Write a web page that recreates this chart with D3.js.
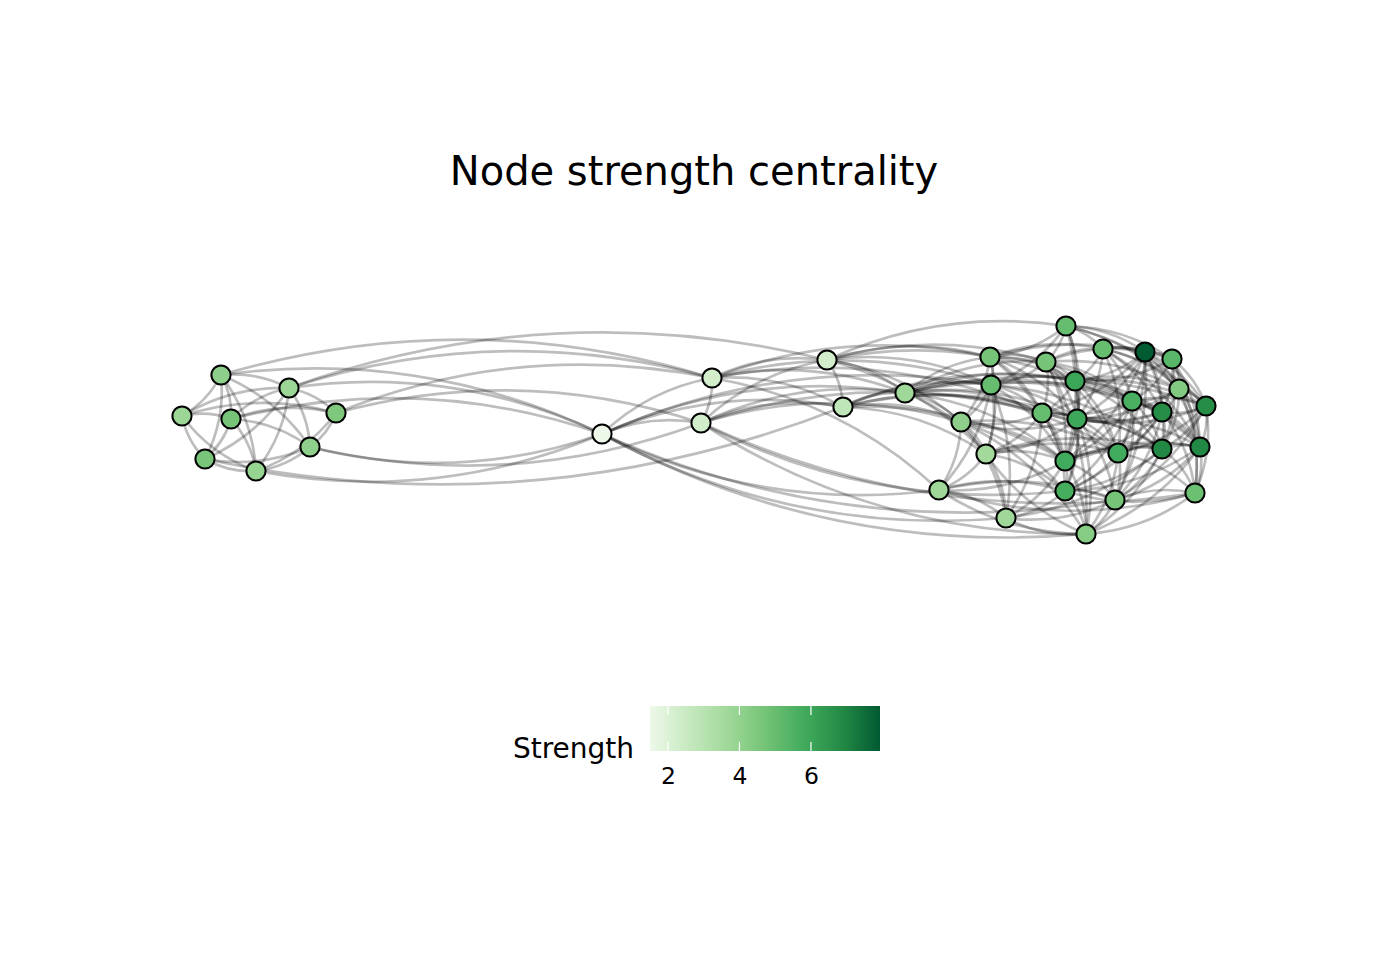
<!DOCTYPE html>
<html>
<head>
<meta charset="utf-8">
<script src="https://cdn.jsdelivr.net/npm/d3@7"></script>
<style>
  body { margin: 0; background: #fff; }
  text { font-family: "DejaVu Sans", sans-serif; }
</style>
</head>
<body>
<svg width="1382" height="960"></svg>
<script>
// layout coordinates of the nodes (graph layout units)
const nodeX = [-4.73, -5.12, -4.63, -4.05, -3.58, -3.84, -4.89, -4.38,
  -0.92, 0.18, 0.07, 1.33, 1.49, 2.11,
  3.72, 2.96, 3.52, 4.09, 4.51, 4.78, 2.97, 3.81, 4.85, 4.38, 5.12, 4.68, 3.48,
  3.83, 2.67, 2.92, 3.71, 4.24, 4.68, 5.06, 2.45, 3.71, 4.21, 5.01, 3.12, 3.92];
const nodeY = [0.55, 0.14, 0.11, 0.42, 0.17, -0.17, -0.29, -0.41,
  -0.04, 0.52, 0.07, 0.70, 0.23, 0.37,
  1.04, 0.73, 0.68, 0.81, 0.78, 0.71, 0.45, 0.49, 0.41, 0.29, 0.24, 0.18, 0.17,
  0.11, 0.08, -0.24, -0.31, -0.23, -0.19, -0.17, -0.60, -0.61, -0.70, -0.63, -0.88, -1.04];
// node strength
const strength = [4.1, 3.8, 4.7, 3.8, 4.5, 4.1, 4.6, 3.9,
  1.5, 2.3, 2.3, 2.3, 2.8, 3.7,
  5.0, 4.7, 4.7, 5.0, 7.93, 5.3, 5.0, 6.0, 4.4, 5.6, 6.8, 6.8, 5.0,
  5.9, 4.1, 3.6, 5.8, 5.8, 6.9, 6.9, 3.7, 5.7, 4.7, 4.9, 3.7, 4.3];
const strengthTicks = [2, 4, 6];

const edges = [
  // left group
  [0,1],[0,2],[0,3],[0,5],[0,6],[0,7],[1,2],[1,4],[6,1],[7,1],[2,3],[2,4],[2,5],
  [2,6],[2,7],[3,4],[3,5],[3,6],[3,7],[4,5],[4,7],[5,6],[5,7],[7,6],[1,3],
  // left to the rest
  [3,9],[3,11],[0,9],[4,9],[0,8],[3,8],[2,8],[4,10],[8,5],[10,5],[8,7],[12,6],
  // middle
  [8,9],[8,10],[8,12],[8,13],[8,20],[39,8],[38,8],[36,8],[34,8],
  [9,10],[9,11],[9,12],[9,13],[9,15],[9,20],[9,26],[9,34],
  [10,11],[10,12],[10,13],[10,28],[10,26],[39,10],[37,10],[35,10],
  [11,12],[11,13],[11,14],[11,15],[11,16],[11,20],[11,21],[11,28],[11,29],
  [12,13],[12,20],[12,26],[12,27],[12,28],[12,21],[12,30],[12,29],
  [13,15],[13,20],[13,21],[13,26],[13,27],[13,28],[13,29],[13,30],[13,23],[13,25],[13,24],[13,16],[13,31],
  // right group
  [14,15],[14,16],[14,17],[14,18],[14,19],[14,21],[14,22],[14,24],[14,20],[14,27],[14,30],
  [15,16],[15,20],[15,21],[15,26],[15,27],[15,28],[15,17],[15,19],[15,29],[15,30],[15,23],
  [16,17],[16,20],[16,21],[16,22],[16,23],[16,26],[16,27],[16,30],[16,31],[16,39],[16,18],
  [17,18],[17,19],[17,21],[17,22],[17,23],[17,25],[17,27],[17,31],[17,24],[17,33],
  [18,19],[18,21],[18,22],[18,23],[18,24],[18,25],[18,27],[18,31],[18,32],[18,33],[18,36],[18,26],[18,30],
  [19,22],[19,23],[19,24],[19,25],[19,32],[19,33],[19,21],[19,37],
  [20,21],[20,26],[20,27],[20,28],[20,29],[20,30],[20,34],[20,25],[20,32],[20,38],
  [21,22],[21,23],[21,25],[21,26],[21,27],[21,30],[21,31],[21,32],[21,33],[21,35],[21,24],
  [22,23],[22,24],[22,25],[22,27],[22,32],[22,33],[22,37],
  [23,24],[23,25],[23,27],[23,30],[23,31],[23,32],[23,33],[23,35],[23,36],[23,26],
  [24,25],[24,32],[24,33],[24,37],[24,31],[24,27],[24,36],
  [25,27],[25,30],[25,31],[25,32],[25,33],[25,35],[25,36],[25,37],[25,26],
  [26,27],[26,28],[26,29],[26,30],[26,31],[26,35],[26,38],[26,32],
  [27,28],[27,29],[27,30],[27,31],[27,32],[27,33],[27,35],[27,36],[27,39],
  [28,29],[28,30],[28,34],[28,35],[28,38],[28,39],[28,31],
  [29,30],[29,34],[29,35],[29,38],[39,29],[29,31],[29,32],
  [30,31],[30,32],[30,35],[30,36],[30,38],[30,39],[30,33],[30,34],
  [31,32],[31,33],[31,35],[31,36],[31,37],[31,39],
  [32,33],[32,35],[32,36],[32,37],[32,39],[32,38],
  [33,36],[33,37],[33,39],[33,35],
  [34,35],[34,38],[39,34],[34,36],
  [35,36],[35,38],[35,39],[37,35],
  [36,37],[36,39],[36,38],
  [37,39],[39,38],[37,34]
];

const svg = d3.select("svg");

const x = d3.scaleLinear().domain([-5.12, 5.12]).range([182, 1206]);
const y = d3.scaleLinear().domain([1.04, -1.04]).range([326, 534]);

const greens = ["#edf8e9", "#c7e9c0", "#a1d99b", "#74c476", "#41ab5d", "#238b45", "#005a32"];
const ext = d3.extent(strength);
const color = d3.scaleLinear()
  .domain(greens.map((c, i) => ext[0] + i * (ext[1] - ext[0]) / (greens.length - 1)))
  .range(greens)
  .interpolate(d3.interpolateLab);

// title
svg.append("text")
  .attr("x", 694)
  .attr("y", 185)
  .attr("text-anchor", "middle")
  .attr("font-size", 40)
  .text("Node strength centrality");

// edges as arcs
function arc(e) {
  const x1 = x(nodeX[e[0]]), y1 = y(nodeY[e[0]]);
  const x2 = x(nodeX[e[1]]), y2 = y(nodeY[e[1]]);
  const dx = x2 - x1, dy = y2 - y1;
  const cx = (x1 + x2) / 2 + dy * 0.15;
  const cy = (y1 + y2) / 2 - dx * 0.15;
  const p = d3.path();
  p.moveTo(x1, y1);
  p.quadraticCurveTo(cx, cy, x2, y2);
  return p.toString();
}

svg.append("g")
  .selectAll("path")
  .data(edges)
  .join("path")
  .attr("d", arc)
  .attr("fill", "none")
  .attr("stroke", "#000")
  .attr("stroke-opacity", 0.26)
  .attr("stroke-width", 2.7);

// nodes
svg.append("g")
  .selectAll("circle")
  .data(strength)
  .join("circle")
  .attr("cx", (d, i) => x(nodeX[i]))
  .attr("cy", (d, i) => y(nodeY[i]))
  .attr("r", 9.6)
  .attr("fill", d => color(d))
  .attr("stroke", "#000")
  .attr("stroke-width", 2);

// Legend
const lx = d3.scaleLinear().domain(ext).range([650, 880]);
const grad = svg.append("defs").append("linearGradient")
  .attr("id", "strength-grad");
grad.selectAll("stop")
  .data(d3.range(0, 1.0001, 0.05))
  .join("stop")
  .attr("offset", t => t)
  .attr("stop-color", t => color(ext[0] + t * (ext[1] - ext[0])));

const legend = svg.append("g").attr("id", "legend");
legend.append("rect")
  .attr("x", lx(ext[0]))
  .attr("y", 706)
  .attr("width", lx(ext[1]) - lx(ext[0]))
  .attr("height", 45)
  .attr("fill", "url(#strength-grad)");

legend.selectAll(".tk-top")
  .data(strengthTicks)
  .join("line")
  .attr("class", "tk-top")
  .attr("x1", d => lx(d)).attr("x2", d => lx(d))
  .attr("y1", 706).attr("y2", 715)
  .attr("stroke", "#fff").attr("stroke-width", 1.2);
legend.selectAll(".tk-bot")
  .data(strengthTicks)
  .join("line")
  .attr("class", "tk-bot")
  .attr("x1", d => lx(d)).attr("x2", d => lx(d))
  .attr("y1", 742).attr("y2", 751)
  .attr("stroke", "#fff").attr("stroke-width", 1.2);

const axis = d3.axisBottom(lx)
  .tickValues(strengthTicks)
  .tickFormat(d3.format("d"))
  .tickSize(0)
  .tickPadding(16);
const ag = legend.append("g")
  .attr("transform", "translate(0,751)")
  .call(axis);
ag.select(".domain").remove();
ag.selectAll("text")
  .attr("font-size", 23.5)
  .attr("font-family", "DejaVu Sans")
  .attr("fill", "#000");

legend.append("text")
  .attr("x", 634)
  .attr("y", 758)
  .attr("text-anchor", "end")
  .attr("font-size", 28)
  .text("Strength");
</script>
</body>
</html>
